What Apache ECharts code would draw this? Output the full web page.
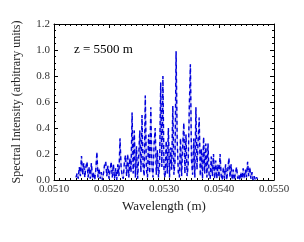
<!DOCTYPE html>
<html>
<head>
<meta charset="utf-8">
<script src="https://cdn.jsdelivr.net/npm/echarts@6/dist/echarts.min.js"></script>
<style>html,body{margin:0;padding:0;background:#fff}#c{width:304px;height:242px}</style>
</head>
<body>
<div id="c"></div>
<script>
const wavelength = [
0.05140,0.05142,0.05144,0.05146,0.05148,0.05150,0.05152,0.05154,0.05156,0.05158,
0.05160,0.05162,0.05164,0.05166,0.05168,0.05170,0.05172,0.05174,0.05176,0.05178,
0.05180,0.05182,0.05184,0.05186,0.05188,0.05190,0.05192,0.05194,0.05196,0.05198,
0.05200,0.05202,0.05204,0.05206,0.05208,0.05210,0.05212,0.05214,0.05216,0.05218,
0.05220,0.05222,0.05224,0.05226,0.05228,0.05230,0.05232,0.05234,0.05236,0.05238,
0.05240,0.05242,0.05244,0.05246,0.05248,0.05250,0.05252,0.05254,0.05256,0.05258,
0.05260,0.05262,0.05264,0.05266,0.05268,0.05270,0.05272,0.05274,0.05276,0.05278,
0.05280,0.05282,0.05284,0.05286,0.05288,0.05290,0.05292,0.05294,0.05296,0.05298,
0.05300,0.05302,0.05304,0.05306,0.05308,0.05310,0.05312,0.05314,0.05316,0.05318,
0.05320,0.05322,0.05324,0.05326,0.05328,0.05330,0.05332,0.05334,0.05336,0.05338,
0.05340,0.05342,0.05344,0.05346,0.05348,0.05350,0.05352,0.05354,0.05356,0.05358,
0.05360,0.05362,0.05364,0.05366,0.05368,0.05370,0.05372,0.05374,0.05376,0.05378,
0.05380,0.05382,0.05384,0.05386,0.05388,0.05390,0.05392,0.05394,0.05396,0.05398,
0.05400,0.05402,0.05404,0.05406,0.05408,0.05410,0.05412,0.05414,0.05416,0.05418,
0.05420,0.05422,0.05424,0.05426,0.05428,0.05430,0.05432,0.05434,0.05436,0.05438,
0.05440,0.05442,0.05444,0.05446,0.05448,0.05450,0.05452,0.05454,0.05456,0.05458,
0.05460,0.05462,0.05464,0.05466,0.05468,0.05470
];
const intensity = [
0.02,0.05,0.01,0.10,0.03,0.185,0.04,0.13,0.02,0.10,
0.14,0.02,0.10,0.01,0.13,0.01,0.06,0.00,0.08,0.215,
0.02,0.09,0.01,0.06,0.00,0.05,0.12,0.14,0.03,0.11,
0.01,0.08,0.14,0.02,0.12,0.01,0.09,0.00,0.12,0.03,
0.32,0.10,0.03,0.01,0.14,0.19,0.03,0.20,0.02,0.17,
0.06,0.52,0.05,0.38,0.02,0.26,0.01,0.18,0.38,0.06,
0.50,0.10,0.03,0.65,0.08,0.02,0.35,0.05,0.56,0.10,
0.02,0.28,0.40,0.04,0.23,0.02,0.12,0.75,0.10,0.80,
0.06,0.02,0.30,0.05,0.40,0.02,0.25,0.08,0.57,0.04,
0.14,0.99,0.30,0.06,0.02,0.32,0.03,0.26,0.44,0.05,
0.35,0.03,0.12,0.56,0.89,0.15,0.04,0.32,0.02,0.56,
0.08,0.30,0.48,0.03,0.24,0.01,0.33,0.05,0.28,0.02,
0.28,0.04,0.01,0.18,0.03,0.20,0.01,0.15,0.01,0.12,
0.02,0.20,0.03,0.00,0.10,0.01,0.12,0.00,0.08,0.17,
0.02,0.12,0.00,0.08,0.00,0.06,0.10,0.01,0.04,0.00,
0.06,0.01,0.09,0.01,0.08,0.02,0.14,0.03,0.10,0.01,
0.06,0.00,0.03,0.00,0.02,0.01
];
const xTicks = [0.0510, 0.0520, 0.0530, 0.0540, 0.0550];
const yTicks = [0.0, 0.2, 0.4, 0.6, 0.8, 1.0, 1.2];
const annotation = 'z = 5500 m';

const pts = wavelength.map((w, i) => [w, intensity[i]]);
const font = 'Liberation Serif';
const chart = echarts.init(document.getElementById('c'), null, {renderer: 'canvas'});
const tickCommon = {show: true, inside: true, length: 4, lineStyle: {color: '#000', width: 1}};
const minorCommon = {show: true, length: 2, lineStyle: {color: '#000', width: 1}};
chart.setOption({
  animation: false,
  backgroundColor: '#fff',
  grid: {left: 54, right: 30, top: 24, bottom: 62, containLabel: false},
  xAxis: [{
    type: 'value', min: xTicks[0], max: xTicks[xTicks.length - 1], interval: 0.001,
    axisLine: {show: true, onZero: false, lineStyle: {color: '#000', width: 1}},
    axisTick: tickCommon,
    minorTick: Object.assign({splitNumber: 10}, minorCommon),
    splitLine: {show: false},
    axisLabel: {color: '#333', fontFamily: font, fontSize: 11, margin: 4, formatter: v => v.toFixed(4)},
    name: 'Wavelength (m)', nameLocation: 'middle', nameGap: 16,
    nameTextStyle: {color: '#222', fontFamily: font, fontSize: 13}
  }, {
    type: 'value', position: 'top', min: xTicks[0], max: xTicks[xTicks.length - 1], interval: 0.001,
    axisLine: {show: true, onZero: false, lineStyle: {color: '#000', width: 1}},
    axisTick: tickCommon,
    minorTick: Object.assign({splitNumber: 10}, minorCommon),
    splitLine: {show: false}, axisLabel: {show: false}
  }],
  yAxis: [{
    type: 'value', min: 0, max: 1.2, interval: 0.2,
    axisLine: {show: true, onZero: false, lineStyle: {color: '#000', width: 1}},
    axisTick: tickCommon,
    minorTick: Object.assign({splitNumber: 4}, minorCommon),
    splitLine: {show: false},
    axisLabel: {color: '#333', fontFamily: font, fontSize: 11, margin: 4, formatter: v => v.toFixed(1)},
    name: 'Spectral Intensity (arbitrary units)', nameLocation: 'middle', nameGap: 31,
    nameTextStyle: {color: '#222', fontFamily: font, fontSize: 12}
  }, {
    type: 'value', position: 'right', min: 0, max: 1.2, interval: 0.2,
    axisLine: {show: true, onZero: false, lineStyle: {color: '#000', width: 1}},
    axisTick: tickCommon,
    minorTick: Object.assign({splitNumber: 4}, minorCommon),
    splitLine: {show: false}, axisLabel: {show: false}
  }],
  graphic: [{
    type: 'text', left: 74, top: 43,
    style: {text: annotation, fontFamily: font, fontSize: 13, fill: '#000'}
  }],
  series: [{
    type: 'line', data: pts, showSymbol: false, xAxisIndex: 0, yAxisIndex: 0,
    lineStyle: {color: '#b8b8ee', width: 1.2}, silent: true
  }, {
    type: 'line', data: pts, showSymbol: false, xAxisIndex: 0, yAxisIndex: 0,
    lineStyle: {color: '#0000dd', width: 1.4, type: [4, 3]}, silent: true
  }]
});
</script>
</body>
</html>
